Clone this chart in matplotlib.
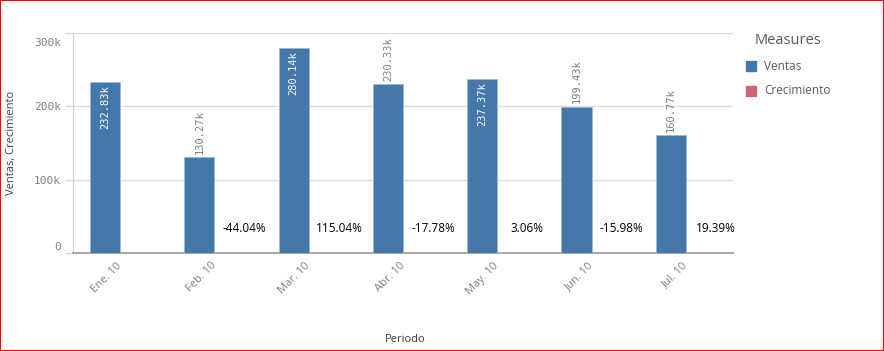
import matplotlib.pyplot as plt
import matplotlib.transforms as mtransforms
from matplotlib.patches import Rectangle
import numpy as np

# datos
periodos = ['Ene. 10', 'Feb. 10', 'Mar. 10', 'Abr. 10', 'May. 10', 'Jun. 10', 'Jul. 10']
ventas = [232830, 130270, 280140, 230330, 237370, 199430, 160770]
ventas_labels = ['232.83k', '130.27k', '280.14k', '230.33k', '237.37k', '199.43k', '160.77k']
etiqueta_dentro = [True, False, True, False, True, False, False]
crecimiento = [np.nan, -0.4404, 1.1504, -0.1778, 0.0306, -0.1598, 0.1939]
crecimiento_labels = ['', '-44.04%', '115.04%', '-17.78%', '3.06%', '-15.98%', '19.39%']
yticks = [0, 100000, 200000, 300000]
ytick_labels = ['0', '100k', '200k', '300k']

azul = '#4477aa'
rojo = '#cc6677'
gris = '#808080'
mono = 'DejaVu Sans Mono'
sans = 'Open Sans'

W, H = 884, 351
fig = plt.figure(figsize=(W / 100, H / 100), dpi=100)
ax = fig.add_axes([73 / W, 1 - 253 / H, (733 - 73) / W, (253 - 33) / H])

x = np.arange(len(periodos))
bw = 0.32
ax.bar(x - bw / 2, ventas, width=bw, color=azul, edgecolor='#9db6d6', linewidth=0.6, zorder=3)
ax.bar(x + bw / 2, crecimiento, width=bw, color=rojo, zorder=3)

# etiquetas de valores
for i, v in enumerate(ventas):
    if etiqueta_dentro[i]:
        ax.annotate(ventas_labels[i], (x[i] - bw / 2, v), xytext=(0, -2.5), textcoords='offset points',
                    rotation=90, ha='center', va='top', color='white', fontsize=7.5, family=mono, zorder=4)
    else:
        ax.annotate(ventas_labels[i], (x[i] - bw / 2, v), xytext=(0, 2.5), textcoords='offset points',
                    rotation=90, ha='center', va='bottom', color=gris, fontsize=7.5, family=mono, zorder=4)

for i, lab in enumerate(crecimiento_labels):
    if lab:
        ax.annotate(lab, (x[i] + bw, 0), xytext=(0, 18), textcoords='offset points',
                    ha='center', va='center', color='black', fontsize=8.5, family=sans, zorder=4)

ax.set_xlim(-0.5, len(periodos) - 0.5)
ax.set_ylim(0, 300000)
ax.set_yticks(yticks)
ax.set_yticklabels(ytick_labels, family=mono, fontsize=8, color=gris)
ax.set_xticks(x)
ax.set_xticklabels(periodos, family=sans, fontsize=8, color=gris, rotation=45,
                   ha='right', va='center', rotation_mode='anchor')
ax.tick_params(axis='x', length=0, pad=8)
ax.tick_params(axis='y', length=6, color='#d9d9d9', width=1, pad=2.5)

# ajustar primera y ultima etiqueta del eje y
labs = ax.get_yticklabels()
labs[0].set_transform(labs[0].get_transform() + mtransforms.ScaledTranslation(0, 6.5 / 100, fig.dpi_scale_trans))
labs[-1].set_transform(labs[-1].get_transform() + mtransforms.ScaledTranslation(0, -9.5 / 100, fig.dpi_scale_trans))

ax.grid(axis='y', color='#dcdcdc', linewidth=1, zorder=0)
ax.set_axisbelow(True)
for s in ['top', 'right']:
    ax.spines[s].set_visible(False)
ax.spines['left'].set_color('#d0d0d0')
ax.spines['bottom'].set_color('#9a9a9a')
ax.spines['bottom'].set_linewidth(1.2)

fig.text(12 / W, 1 - 143 / H, 'Ventas, Crecimiento', rotation=90, ha='center', va='center',
         fontsize=8, family=sans, color='#404040')
fig.text(405 / W, 1 - 340 / H, 'Periodo', ha='center', va='center', fontsize=8, family=sans, color='#404040')

# leyenda
fig.text(755 / W, 1 - 41 / H, 'Measures', ha='left', va='center', fontsize=10.5, family=sans, color='#595959')
for nombre, col, yc in [('Ventas', azul, 66), ('Crecimiento', rojo, 91)]:
    fig.patches.append(Rectangle((746 / W, 1 - (yc + 5) / H), 10 / W, 10 / H, color=col,
                                 transform=fig.transFigure, figure=fig))
    fig.text(764 / W, 1 - yc / H, nombre, ha='left', va='center', fontsize=8.5, family=sans, color='#595959')

# borde rojo
fig.patches.append(Rectangle((0, 0), 1, 1, fill=False, edgecolor='red', linewidth=1.5,
                             transform=fig.transFigure, figure=fig))

fig.savefig('out.png', dpi=100)
